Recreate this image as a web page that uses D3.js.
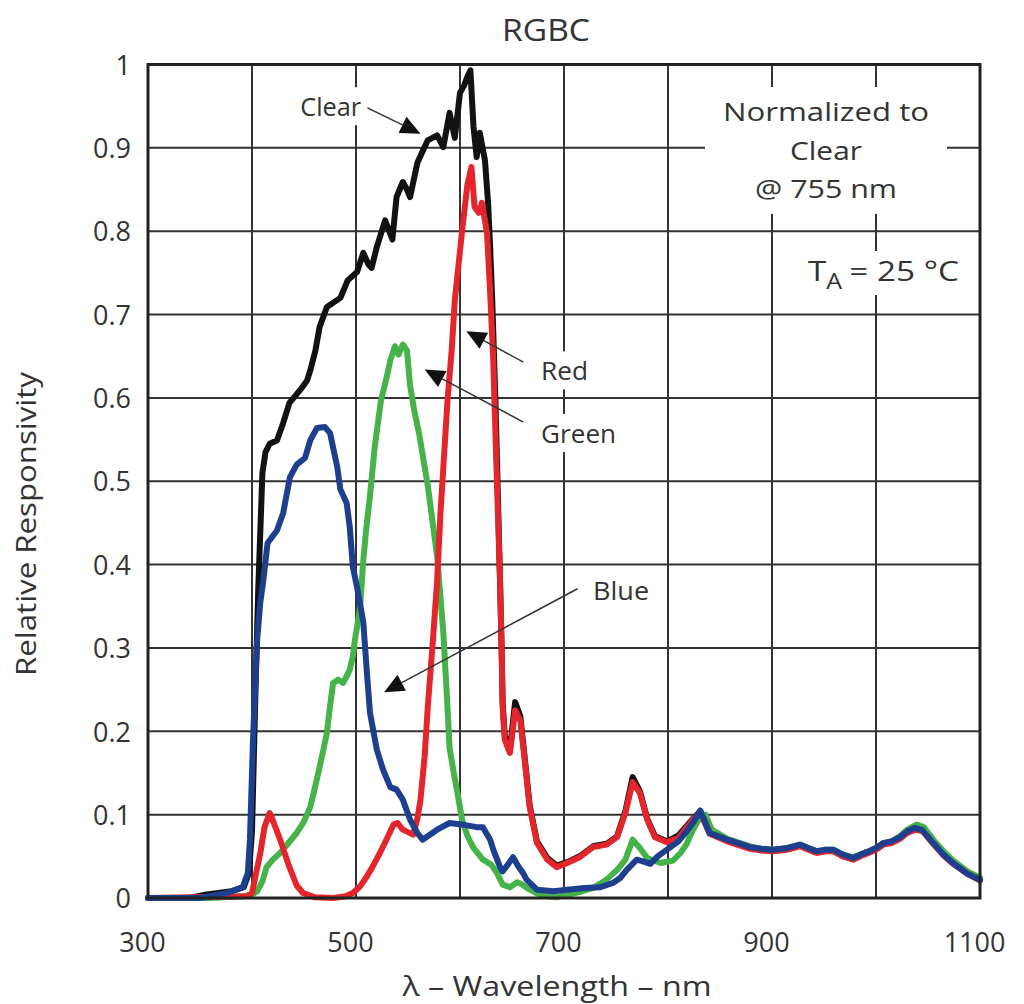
<!DOCTYPE html>
<html>
<head>
<meta charset="utf-8">
<script src="https://cdn.jsdelivr.net/npm/d3@7"></script>
<style>
  html, body { margin: 0; padding: 0; background: #fff; }
  svg { display: block; }
  text { font-family: "Open Sans", "Noto Sans", sans-serif; fill: #333; }
</style>
</head>
<body>
<svg id="chart" width="1024" height="1004"></svg>
<script>
// Spectral responsivity, normalized to Clear @ 755 nm
const clearCurve = [
  [300,0],[340,0],[355,0.004],[380,0.008],[392,0.013],[397,0.03],[400,0.08],[402,0.18],
  [404,0.28],[406,0.37],[408,0.44],[410,0.51],[413,0.535],[417,0.545],[424,0.549],
  [430,0.57],[436,0.594],[446,0.609],[453,0.621],[456,0.633],[461,0.657],[465,0.685],
  [472,0.709],[485,0.72],[492,0.741],[501,0.751],[507,0.774],[512,0.76],[515,0.756],
  [520,0.781],[528,0.813],[532,0.8],[535,0.79],[539,0.841],[545,0.859],[549,0.85],
  [552,0.841],[559,0.882],[569,0.909],[578,0.915],[584,0.901],[590,0.942],[595,0.912],
  [600,0.966],[604,0.975],[607,0.985],[610,0.993],[613,0.925],[616,0.889],[619,0.918],
  [624,0.885],[627,0.834],[629,0.78],[631,0.717],[634,0.6],[636.5,0.48],[638.5,0.38],
  [640,0.301],[641,0.235],[643,0.195],[648,0.178],[653,0.235],[658,0.218],[662.5,0.165],
  [667,0.111],[674,0.068],[684,0.048],[693,0.039],[703,0.043],[715,0.05],[728,0.062],
  [741,0.065],[751,0.074],[759,0.104],[766,0.145],[773,0.128],[780,0.095],[787.5,0.074],
  [799,0.068],[810,0.075],[824,0.095],[831,0.104],[840,0.078],[857,0.069],[879,0.06],
  [890,0.058],[901,0.057],[915,0.059],[927,0.063],[935,0.059],[943,0.055],[952,0.057],
  [959,0.057],[968,0.051],[978,0.047],[985,0.051],[991,0.054],[1000,0.059],[1007,0.065],
  [1015,0.067],[1023,0.072],[1030,0.079],[1038,0.083],[1045,0.081],[1055,0.066],
  [1065,0.052],[1074,0.042],[1088,0.03],[1100,0.022]
];

const greenCurve = [
  [300,0],[360,0],[391,0.002],[400,0.004],[405,0.008],[410,0.02],[414,0.037],[420,0.046],
  [427,0.054],[435,0.066],[443,0.078],[450,0.092],[456,0.109],[461,0.135],[465,0.157],
  [469,0.18],[472,0.198],[475,0.23],[478,0.258],[483,0.262],[487.5,0.258],[491,0.266],
  [494,0.274],[497,0.29],[499,0.31],[501,0.325],[504,0.35],[507,0.405],[510,0.445],
  [513,0.477],[518,0.541],[524,0.597],[529,0.622],[533,0.645],[537.5,0.662],[541,0.652],
  [545,0.664],[549,0.657],[552,0.615],[556,0.585],[561,0.555],[569,0.495],[578,0.41],
  [584,0.318],[587.5,0.24],[590,0.18],[594,0.15],[597,0.13],[602,0.094],[607,0.075],
  [612.5,0.061],[622,0.046],[630,0.04],[635.5,0.03],[641,0.016],[648,0.013],[655,0.019],
  [660,0.016],[667,0.01],[675,0.005],[684,0.002],[693,0.001],[700,0.003],[715,0.007],
  [728,0.012],[741,0.022],[752,0.035],[759,0.046],[766,0.07],[773,0.06],[780,0.048],
  [793,0.042],[805,0.045],[812,0.054],[818,0.065],[824,0.082],[831,0.097],[836,0.1],
  [842,0.082],[857,0.071],[879,0.062],[890,0.059],[901,0.058],[915,0.06],[927,0.064],
  [935,0.06],[943,0.056],[952,0.058],[959,0.058],[968,0.052],[978,0.049],[985,0.052],
  [991,0.055],[1000,0.06],[1007,0.065],[1015,0.068],[1023,0.074],[1030,0.082],
  [1039,0.088],[1046,0.085],[1055,0.07],[1065,0.056],[1074,0.045],[1088,0.032],[1100,0.024]
];

const redCurve = [
  [300,0],[395,0.002],[400,0.006],[404,0.03],[408,0.054],[412,0.085],[417,0.102],
  [421,0.09],[427,0.07],[436,0.037],[443,0.015],[449,0.006],[460,0.001],[478,0],
  [490,0.002],[497,0.006],[504,0.014],[510,0.025],[517,0.04],[523,0.054],[530,0.072],
  [536,0.088],[540,0.09],[545,0.082],[550,0.079],[555,0.076],[559,0.095],[562,0.118],
  [566,0.17],[569,0.229],[574,0.31],[578,0.38],[581,0.457],[584,0.517],[588,0.597],
  [592,0.657],[595,0.717],[602,0.8],[607,0.855],[611,0.877],[614,0.829],[618,0.822],
  [621,0.834],[626,0.798],[629,0.726],[632,0.645],[634,0.56],[636.5,0.46],[638.5,0.38],
  [640,0.301],[641,0.229],[643,0.19],[648,0.174],[653,0.225],[658,0.213],[662.5,0.162],
  [667,0.109],[674,0.066],[684,0.046],[693,0.037],[703,0.042],[715,0.049],[728,0.061],
  [741,0.064],[751,0.073],[759,0.102],[766,0.139],[773,0.126],[780,0.094],[787.5,0.073],
  [799,0.067],[810,0.072],[824,0.094],[831,0.103],[840,0.077],[857,0.068],[879,0.059],
  [890,0.057],[901,0.056],[915,0.058],[927,0.062],[935,0.058],[943,0.054],[952,0.056],
  [959,0.056],[968,0.05],[978,0.046],[985,0.05],[991,0.053],[1000,0.058],[1007,0.064],
  [1015,0.066],[1023,0.071],[1030,0.078],[1038,0.082],[1045,0.08],[1055,0.065],
  [1065,0.051],[1074,0.041],[1088,0.029],[1100,0.021]
];

const blueCurve = [
  [300,0],[350,0],[376,0.006],[391,0.013],[396,0.03],[398,0.07],[401,0.19],[405,0.31],
  [408,0.355],[410.6,0.378],[415,0.426],[424,0.441],[430,0.462],[436.5,0.505],[443,0.52],
  [451,0.528],[456,0.549],[462.5,0.564],[470,0.565],[475,0.558],[482,0.517],[485,0.49],
  [491,0.474],[494,0.445],[497,0.397],[501,0.373],[507,0.331],[510.5,0.27],[513.5,0.222],
  [520,0.178],[526,0.154],[533,0.133],[539,0.13],[545,0.118],[552,0.094],[559,0.078],
  [564,0.07],[578,0.082],[590,0.09],[603,0.088],[616,0.085],[622,0.085],[629,0.07],
  [632,0.058],[638.5,0.037],[641,0.032],[646,0.04],[651,0.049],[656,0.038],[660.6,0.03],
  [664,0.022],[674,0.01],[690,0.008],[703,0.01],[720,0.012],[735,0.013],[747,0.018],
  [754,0.024],[760.6,0.034],[770,0.046],[776,0.044],[783,0.041],[790,0.05],[799,0.058],
  [810,0.068],[818,0.08],[825,0.092],[831,0.105],[840,0.078],[857,0.07],[879,0.061],
  [890,0.059],[901,0.058],[915,0.06],[927,0.064],[935,0.06],[943,0.056],[952,0.058],
  [959,0.058],[968,0.052],[978,0.048],[985,0.052],[991,0.055],[1000,0.06],[1007,0.066],
  [1015,0.068],[1023,0.073],[1030,0.08],[1037,0.084],[1044,0.082],[1055,0.066],
  [1065,0.052],[1074,0.042],[1088,0.029],[1100,0.022]
];

const xTickLabels = [300, 500, 700, 900, 1100];
const xGrid = [400, 500, 600, 700, 800, 900, 1000];
const yTickLabels = [0, 0.1, 0.2, 0.3, 0.4, 0.5, 0.6, 0.7, 0.8, 0.9, 1];
const yGrid = [0.1, 0.2, 0.3, 0.4, 0.5, 0.6, 0.7, 0.8, 0.9];

// Drawing order: Clear underneath, Blue on top
const series = [
  { name: "Clear", data: clearCurve, color: "#121212" },
  { name: "Green", data: greenCurve, color: "#45b34a" },
  { name: "Red",   data: redCurve,   color: "#e3262c" },
  { name: "Blue",  data: blueCurve,  color: "#1d3f8e" }
];

const svg = d3.select("#chart");
const plot = { left: 148, right: 980, top: 64.5, bottom: 898 };

const x = d3.scaleLinear().domain([300, 1100]).range([plot.left, plot.right]);
const y = d3.scaleLinear().domain([0, 1]).range([plot.bottom, plot.top]);

// Fit a text element to a given rendered width
function fit(sel, w) {
  return sel.attr("textLength", w).attr("lengthAdjust", "spacingAndGlyphs");
}

// Grid
const grid = svg.append("g").attr("stroke", "#333").attr("stroke-width", 2);
grid.selectAll("line.gx").data(xGrid).join("line")
  .attr("class", "gx")
  .attr("x1", d => x(d)).attr("x2", d => x(d))
  .attr("y1", plot.top).attr("y2", plot.bottom);
grid.selectAll("line.gy").data(yGrid).join("line")
  .attr("class", "gy")
  .attr("x1", plot.left).attr("x2", plot.right)
  .attr("y1", d => y(d)).attr("y2", d => y(d));

// Axes: tick labels only, no tick marks
const xAxis = d3.axisBottom(x).tickValues(xTickLabels).tickSize(0).tickPadding(0)
  .tickFormat(d3.format("d"));
const gx = svg.append("g").attr("transform", `translate(0,${plot.bottom})`).call(xAxis);
gx.select(".domain").remove();
gx.selectAll("text")
  .attr("dy", 0).attr("y", 54).attr("dx", -6)
  .style("font-size", "27px").style("fill", "#333")
  .style("font-family", '"Open Sans", sans-serif');

const yAxis = d3.axisLeft(y).tickValues(yTickLabels).tickSize(0).tickPadding(0)
  .tickFormat(d => d3.format("~g")(d));
const gy = svg.append("g").attr("transform", `translate(${plot.left - 17},0)`).call(yAxis);
gy.select(".domain").remove();
gy.selectAll("text")
  .attr("dy", "0.36em")
  .style("font-size", "27px").style("fill", "#333")
  .style("font-family", '"Open Sans", sans-serif');

// Annotation labels with white backing
const annotations = [
  { text: "Clear", at: [505, 0.938], anchor: "end",   width: 61, from: [511, 0.948], to: [562, 0.917] },
  { text: "Red",   at: [678, 0.621], anchor: "start", width: 47, from: [661, 0.643], to: [606, 0.68] },
  { text: "Green", at: [678, 0.546], anchor: "start", width: 75, from: [661, 0.571], to: [566, 0.634] },
  { text: "Blue",  at: [728, 0.358], anchor: "start", width: 56, from: [713, 0.371], to: [527, 0.247] }
];

const annoBack = svg.append("g");

// Series
const line = d3.line().x(d => x(d[0])).y(d => y(d[1])).curve(d3.curveLinear);
svg.append("g").selectAll("path").data(series).join("path")
  .attr("d", d => line(d.data))
  .attr("fill", "none")
  .attr("stroke", d => d.color)
  .attr("stroke-width", 6)
  .attr("stroke-linejoin", "round")
  .attr("stroke-linecap", "round");

// Plot frame
svg.append("rect")
  .attr("x", plot.left).attr("y", plot.top)
  .attr("width", plot.right - plot.left).attr("height", plot.bottom - plot.top)
  .attr("fill", "none").attr("stroke", "#222").attr("stroke-width", 3);

const anno = svg.append("g");
annotations.forEach(a => {
  const t = anno.append("text")
    .attr("x", x(a.at[0])).attr("y", y(a.at[1]))
    .attr("text-anchor", a.anchor)
    .style("font-size", "25px")
    .text(a.text);
  fit(t, a.width);
  const b = t.node().getBBox();
  annoBack.append("rect")
    .attr("x", b.x - 6).attr("y", b.y - 2)
    .attr("width", b.width + 12).attr("height", b.height + 4)
    .attr("fill", "#fff");
  const x1 = x(a.from[0]), y1 = y(a.from[1]);
  const x2 = x(a.to[0]), y2 = y(a.to[1]);
  const ang = Math.atan2(y2 - y1, x2 - x1);
  const len = 20, half = 9;
  const bx = x2 - len * Math.cos(ang), by = y2 - len * Math.sin(ang);
  anno.append("line")
    .attr("x1", x1).attr("y1", y1).attr("x2", bx).attr("y2", by)
    .attr("stroke", "#333").attr("stroke-width", 1.5);
  anno.append("path")
    .attr("d", d3.line()([
      [x2, y2],
      [bx + half * Math.sin(ang), by - half * Math.cos(ang)],
      [bx - half * Math.sin(ang), by + half * Math.cos(ang)]
    ]) + "Z")
    .attr("fill", "#111");
});

// Normalization note
const noteLines = [
  { text: "Normalized to", width: 206 },
  { text: "Clear", width: 72 },
  { text: "@ 755 nm", width: 142 }
];
const noteBack = annoBack.append("rect");
const note = svg.append("g");
noteLines.forEach((s, i) => {
  const t = note.append("text")
    .attr("x", 826).attr("y", 121 + i * 38.5)
    .attr("text-anchor", "middle")
    .style("font-size", "26px")
    .text(s.text);
  fit(t, s.width);
});
const nb = note.node().getBBox();
noteBack.attr("x", nb.x - 18).attr("y", nb.y - 6)
  .attr("width", nb.width + 36).attr("height", nb.height + 14).attr("fill", "#fff");

// Ambient temperature
const ta = svg.append("text").attr("x", 808).attr("y", 281)
  .attr("text-anchor", "start").style("font-size", "28px");
ta.append("tspan").text("T");
ta.append("tspan").attr("dy", 8).style("font-size", "21px").text("A");
ta.append("tspan").attr("dy", -8).attr("dx", 6).text("= 25 ");
ta.append("tspan").text("°C");
fit(ta, 151);
const tb = ta.node().getBBox();
annoBack.append("rect").attr("x", tb.x - 4).attr("y", tb.y)
  .attr("width", tb.width + 8).attr("height", tb.height).attr("fill", "#fff");

// Titles
fit(svg.append("text").attr("x", 546).attr("y", 41)
  .attr("text-anchor", "middle").style("font-size", "31px").text("RGBC"), 88);
fit(svg.append("text").attr("x", 557).attr("y", 996)
  .attr("text-anchor", "middle").style("font-size", "27px")
  .text("λ – Wavelength – nm"), 309);
fit(svg.append("text")
  .attr("transform", `translate(36,524) rotate(-90)`)
  .attr("text-anchor", "middle").style("font-size", "27px")
  .text("Relative Responsivity"), 304);
</script>
</body>
</html>
